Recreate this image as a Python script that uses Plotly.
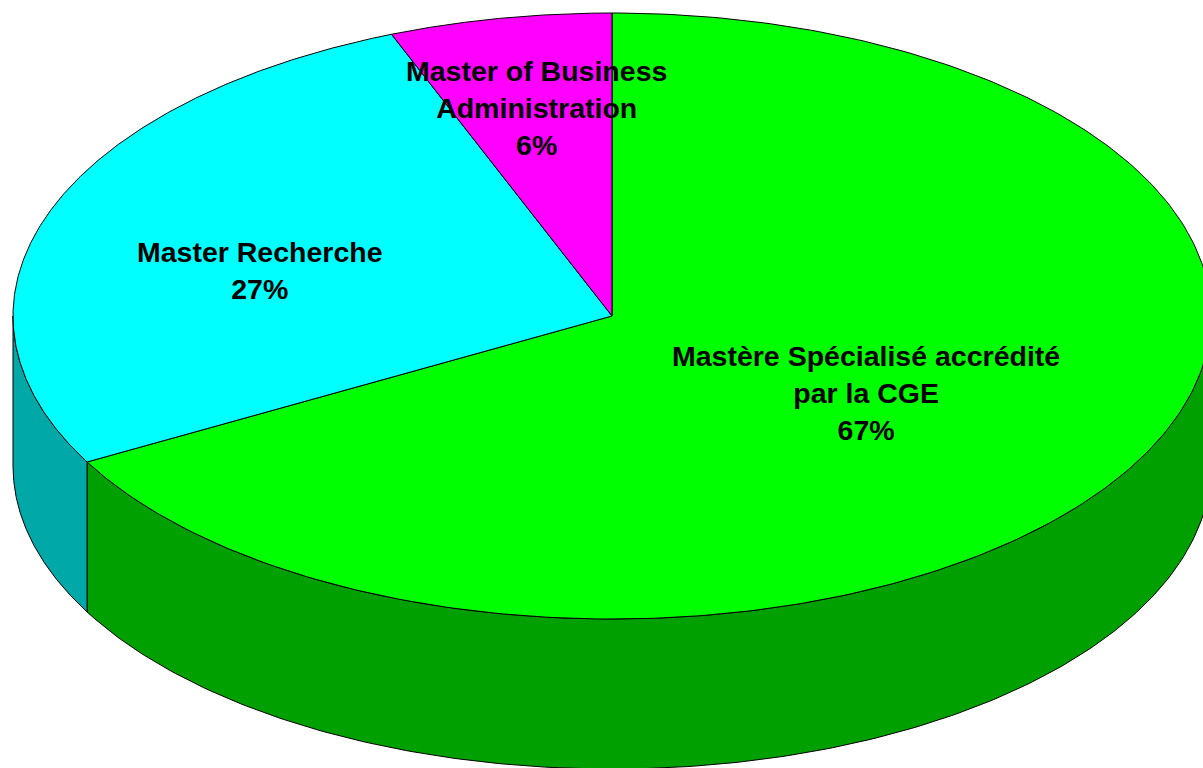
import numpy as np
import plotly.graph_objects as go

# slices, clockwise from 12 o'clock
labels = ["Mastère Spécialisé accrédité<br>par la CGE", "Master Recherche", "Master of Business<br>Administration"]
values = [67, 27, 6]
top_colors = ["#00FF00", "#00FFFF", "#FF00FF"]
side_colors = ["#00A000", "#00A8A8", "#A800A8"]

# projected pie geometry (pixels of the page)
W, H = 1203, 768
cx, cy = 612, 316
a, b = 599, 303
depth = 150
label_pos = [(866, 393), (260, 270), (536, 108)]

fig = go.Figure()


def ell(t):
    return cx + a * np.cos(t), cy - b * np.sin(t)


total = sum(values)
starts = []
ends = []
ang = 90.0
for v in values:
    starts.append(ang)
    ang = ang - 360.0 * v / total
    ends.append(ang)

# side walls first (only the front half, sin < 0)
for i in range(len(values)):
    s, e = starts[i], ends[i]
    # front region is (180, 360) + k*360 ; slice spans [e, s]
    for k in range(-2, 2):
        lo = max(e, 180 + 360 * k)
        hi = min(s, 360 + 360 * k)
        if hi - lo <= 0:
            continue
        t = np.radians(np.linspace(lo, hi, 200))
        x, y = ell(t)
        xs = list(x) + list(x[::-1]) + [x[0]]
        ys = list(y) + list((y + depth)[::-1]) + [y[0]]
        fig.add_trace(go.Scatter(x=xs, y=ys, mode="lines", fill="toself",
                                 fillcolor=side_colors[i],
                                 line=dict(color="black", width=1),
                                 hoverinfo="skip", showlegend=False))

# top faces
for i in range(len(values)):
    t = np.radians(np.linspace(starts[i], ends[i], 300))
    x, y = ell(t)
    xs = [cx] + list(x) + [cx]
    ys = [cy] + list(y) + [cy]
    fig.add_trace(go.Scatter(x=xs, y=ys, mode="lines", fill="toself",
                             fillcolor=top_colors[i],
                             line=dict(color="black", width=1),
                             hoverinfo="skip", showlegend=False))

# labels
for i in range(len(values)):
    pct = round(100 * values[i] / total)
    fig.add_annotation(x=label_pos[i][0], y=label_pos[i][1],
                       text="<b>" + labels[i] + "<br>" + str(pct) + "%</b>",
                       showarrow=False, xanchor="center", yanchor="middle",
                       font=dict(family="Liberation Sans, Arial", size=28.5, color="black"))

fig.update_layout(width=W, height=H, margin=dict(l=0, r=0, t=0, b=0),
                  paper_bgcolor="white", plot_bgcolor="white",
                  xaxis=dict(range=[0, W], visible=False, fixedrange=True),
                  yaxis=dict(range=[H, 0], visible=False, fixedrange=True))

# page body margin would shift the plot by 8px
fig.write_html("out.html", config={"displayModeBar": False},
               post_script="document.body.style.margin='0';document.body.style.overflow='hidden';")
